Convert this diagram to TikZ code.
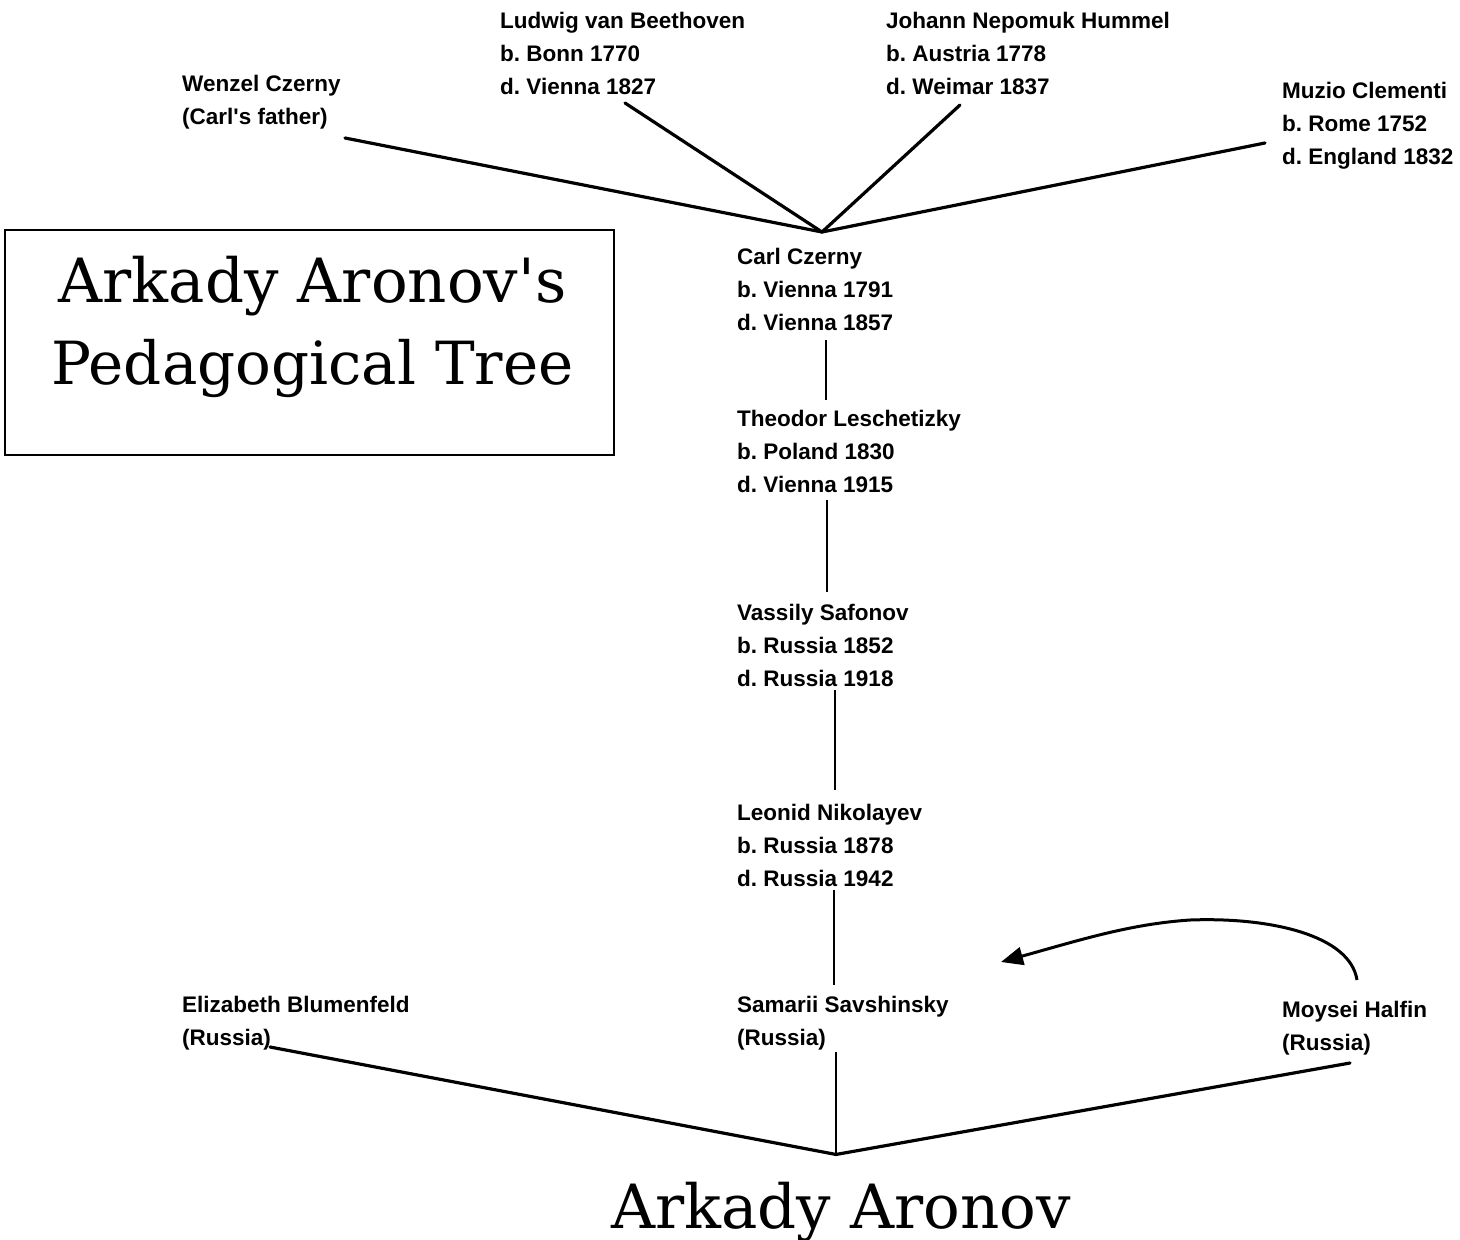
\documentclass[tikz,border=0pt]{standalone}
\usepackage{fontspec}
\newfontfamily\labfont{Liberation Sans}
\newfontfamily\ttlfont{DejaVu Serif}
\usetikzlibrary{calc,arrows.meta}
\frenchspacing
\begin{document}
\frenchspacing
\begin{tikzpicture}[x=1pt,y=-1pt,
  person/.style={anchor=north west, inner sep=0pt, align=left,
    font=\labfont\bfseries\frenchspacing\fontsize{22.5}{33}\selectfont},
  link/.style={line width=3.2pt, line cap=round},
  vlink/.style={line width=2.2pt},
  bigtext/.style={inner sep=0pt, font=\ttlfont\fontsize{61}{82}\selectfont}]
\useasboundingbox (0,0) rectangle (1460,1240);

% people
\node[person] (beet) at (500,12) {Ludwig van Beethoven\\b. Bonn 1770\\d. Vienna 1827};
\node[person] (hummel) at (886,12) {Johann Nepomuk Hummel\\b. Austria 1778\\d. Weimar 1837};
\node[person] (wenzel) at (182,75) {Wenzel Czerny\\(Carl's father)};
\node[person] (clementi) at (1282,82) {Muzio Clementi\\b. Rome 1752\\d. England 1832};
\node[person] (carl) at (737,248) {Carl Czerny\\b. Vienna 1791\\d. Vienna 1857};
\node[person] (lesch) at (737,410) {Theodor Leschetizky\\b. Poland 1830\\d. Vienna 1915};
\node[person] (safonov) at (737,604) {Vassily Safonov\\b. Russia 1852\\d. Russia 1918};
\node[person] (nikol) at (737,804) {Leonid Nikolayev\\b. Russia 1878\\d. Russia 1942};
\node[person] (blumen) at (182,996) {Elizabeth Blumenfeld\\(Russia)};
\node[person] (savsh) at (737,996) {Samarii Savshinsky\\(Russia)};
\node[person] (halfin) at (1282,1001) {Moysei Halfin\\(Russia)};

% title box
\node[draw, line width=2.6pt, minimum width=609pt, minimum height=225pt, inner sep=0pt]
  (titlebox) at (309.5,342.5) {};
\node[bigtext, anchor=north, align=center] (titletext) at ($(titlebox.north)+(3,27)$)
  {\fontsize{61}{82}\selectfont Arkady Aronov's\\\fontsize{59.5}{82}\selectfont Pedagogical Tree};

% Arkady Aronov
\node[bigtext, anchor=base] (aronov) at (841,1228) {Arkady Aronov};

% junctions
\coordinate (jtop) at ($(carl.north west)+(85,-16)$);
\coordinate (jbot) at ($(aronov.north)+(-5,-27)$);

% upper connectors
\draw[link] ($(wenzel.north west)+(163,63)$) -- (jtop);
\draw[link] ($(beet.north west)+(125,91)$) -- (jtop);
\draw[link] ($(hummel.north west)+(74,93)$) -- (jtop);
\draw[link] ($(clementi.north west)+(-17,61)$) -- (jtop);

% chain
\draw[vlink] ($(carl.north west)+(89,92)$) -- ($(lesch.north west)+(89,-10)$);
\draw[vlink] ($(lesch.north west)+(90,90)$) -- ($(safonov.north west)+(90,-12)$);
\draw[vlink] ($(safonov.north west)+(98,86)$) -- ($(nikol.north west)+(98,-14)$);
\draw[vlink] ($(nikol.north west)+(97,86)$) -- ($(savsh.north west)+(97,-11)$);
\draw[vlink] ($(savsh.north west)+(99,56)$) -- (jbot);

% lower connectors
\draw[link] ($(blumen.north west)+(88,51)$) -- (jbot);
\draw[link] ($(halfin.north west)+(68,62)$) -- (jbot);

% arrow
\coordinate (arrtip) at (1001,962);
\draw[line width=3pt, -{Triangle[length=22pt,width=18pt]}]
  ($(halfin.north west)+(75,-21)$) .. controls (1350,935) and (1270,917) .. (1190,920)
  .. controls (1130,924) and (1080,940) .. (arrtip);
\end{tikzpicture}
\end{document}
